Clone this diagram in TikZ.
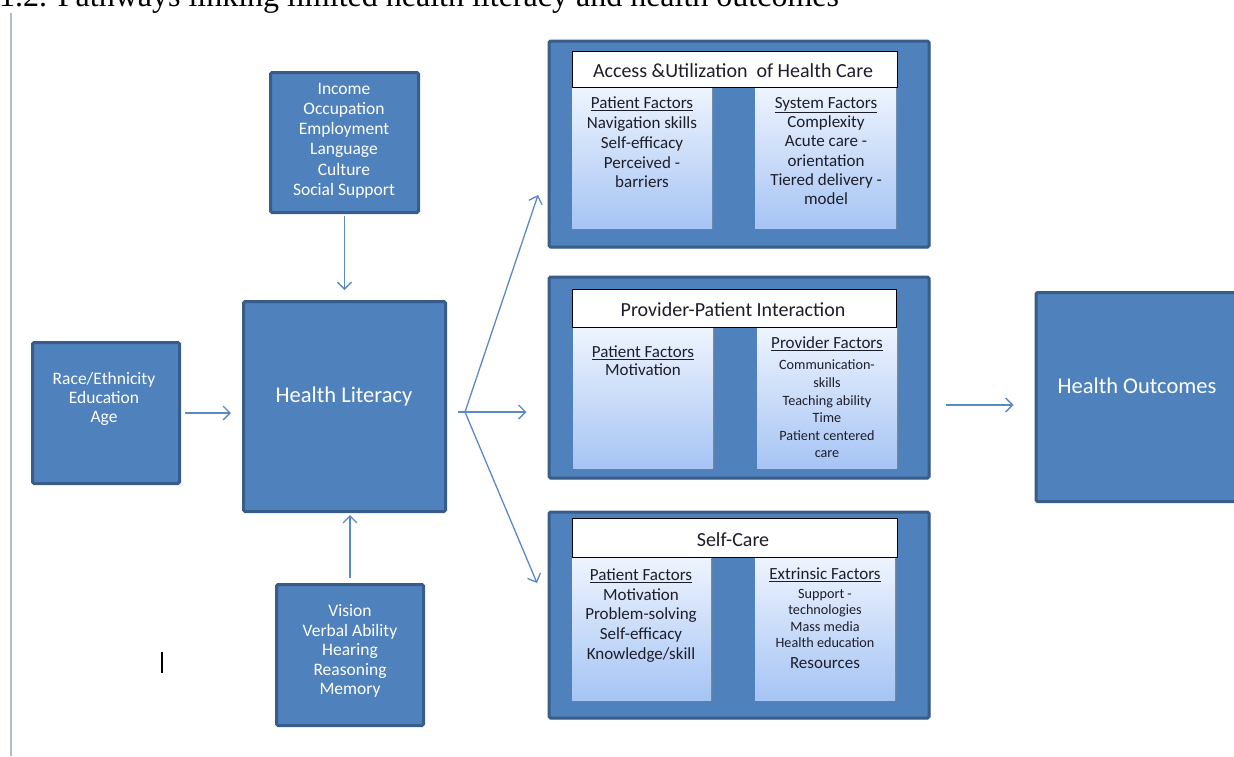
\documentclass[tikz,border=0pt]{standalone}
\usepackage{fontspec}
\setmainfont{Carlito}
\newfontfamily\captionserif{Liberation Serif}
\usetikzlibrary{arrows.meta,shadows,calc}

\definecolor{boxblue}{HTML}{4F81BD}
\definecolor{boxedge}{HTML}{385D8A}
\definecolor{arrowblue}{HTML}{5A8AC6}
\definecolor{paneltop}{HTML}{EEF4FE}
\definecolor{panelbot}{HTML}{A6C4F4}
\definecolor{inktext}{HTML}{1E1E2A}
\definecolor{guide}{HTML}{B4BCCB}

\begin{document}
\begin{tikzpicture}[x=1pt,y=-1pt,
  bluebox/.style={draw=boxedge, line width=3pt, fill=boxblue, rounded corners=1.5pt,
                  inner sep=0pt, outer sep=0pt},
  panelbox/.style={bluebox, drop shadow={opacity=0.25, shadow xshift=1.5pt, shadow yshift=-1.5pt}},
  factorbox/.style={draw=none, top color=paneltop, bottom color=panelbot, inner sep=0pt,
                    drop shadow={opacity=0.35, shadow xshift=2pt, shadow yshift=-2pt}},
  headbox/.style={draw=black, line width=1pt, fill=white, inner sep=0pt},
  boxtext/.style={text=white, align=center, inner sep=0pt, font=\fontsize{17.5}{20}\selectfont},
  bigtext/.style={text=white, align=center, inner sep=0pt, font=\fontsize{22.5}{26}\selectfont},
  headtext/.style={text=inktext, inner sep=0pt, font=\fontsize{20}{24}\selectfont},
  factortext/.style={text=inktext, align=center, inner sep=0pt, font=\fontsize{17}{19.5}\selectfont},
  smalltext/.style={text=inktext, align=center, inner sep=0pt, font=\fontsize{14.2}{16.3}\selectfont},
  arr/.style={draw=arrowblue, line width=1.3pt, -{Straight Barb[length=7pt,width=14pt]}},
]
\useasboundingbox (0,0) rectangle (1234,756);

% caption line, partly cut off at the top edge
\node[anchor=base west, inner sep=0pt, font=\captionserif\fontsize{32}{36}\selectfont]
  (caption) at (-1,6) {1.2. Pathways linking limited health literacy and health outcomes};

% margin rule on the left
\draw[guide, line width=1.5pt] (11,13) -- (11,756);

% text cursor mark
\draw[black, line width=2pt] (162,652) -- (162,673);

% ---- left-hand factor boxes ----
\node[bluebox, minimum width=147pt, minimum height=141pt] (race) at (106,413) {};
\node[boxtext, font=\fontsize{17.5}{19}\selectfont] (racetxt) at (104,399) {Race/Ethnicity\\Education\\Age};

\node[bluebox, minimum width=202pt, minimum height=210pt] (hl) at (344.5,406.5) {};
\node[bigtext] (hltxt) at (344,396) {Health Literacy};

\node[bluebox, minimum width=148pt, minimum height=140pt] (income) at (344.5,142.5) {};
\node[boxtext, font=\fontsize{17.5}{20.2}\selectfont] (incometxt) at (344,140.5)
  {Income\\Occupation\\Employment\\Language\\Culture\\Social Support};

\node[bluebox, minimum width=147pt, minimum height=141pt] (vision) at (350,655) {};
\node[boxtext, font=\fontsize{17.5}{19.5}\selectfont] (visiontxt) at (350,651)
  {Vision\\Verbal Ability\\Hearing\\Reasoning\\Memory};

\node[bluebox, minimum width=203pt, minimum height=209pt] (ho) at (1137.5,397) {};
\node[bigtext] (hotxt) at (1137,386) {Health Outcomes};

% ---- access and utilization panel ----
\node[panelbox, minimum width=380pt, minimum height=206pt] (accpanel) at (739,144) {};
\node[factorbox, minimum width=140pt, minimum height=141pt] (accleft) at (642,157.5) {};
\node[factorbox, minimum width=141pt, minimum height=141pt] (accright) at (825.5,157.5) {};
\node[headbox, minimum width=325pt, minimum height=36pt] (acchead) at (734.5,69) {};
\node[headtext] (accheadtxt) at (733,71) {Access \&Utilization\hspace{0.45em}of Health Care};
\node[factortext, font=\fontsize{17}{19.75}\selectfont] (acclefttxt) at (642,142.5)
  {\underline{Patient Factors}\\Navigation skills\\Self-efficacy\\Perceived -\\barriers};
\node[factortext, font=\fontsize{17}{19.2}\selectfont] (accrighttxt) at (826,151)
  {\underline{System Factors}\\Complexity\\Acute care -\\orientation\\Tiered delivery -\\model};

% ---- provider-patient interaction panel ----
\node[panelbox, minimum width=380pt, minimum height=201pt] (provpanel) at (739,377.5) {};
\node[factorbox, minimum width=140pt, minimum height=141pt] (provleft) at (643,397.5) {};
\node[factorbox, minimum width=140pt, minimum height=141pt] (provright) at (827,397.5) {};
\node[headbox, minimum width=324pt, minimum height=38pt] (provhead) at (734,308) {};
\node[headtext] (provheadtxt) at (733,310) {Provider-Patient Interaction};
\node[factortext, font=\fontsize{17}{18}\selectfont] (provlefttxt) at (643,361)
  {\underline{Patient Factors}\\Motivation};
\node[factortext] (provrighthead) at (827,344) {\underline{Provider Factors}};
\node[smalltext, font=\fontsize{14.2}{17.6}\selectfont] (provrighttxt) at (827,409)
  {Communication-\\skills\\Teaching ability\\Time\\Patient centered\\care};

% ---- self-care panel ----
\node[panelbox, minimum width=380pt, minimum height=206pt] (selfpanel) at (739,615) {};
\node[factorbox, minimum width=139pt, minimum height=142pt] (selfleft) at (641.5,629) {};
\node[factorbox, minimum width=140pt, minimum height=142pt] (selfright) at (825,629) {};
\node[headbox, minimum width=325pt, minimum height=39pt] (selfhead) at (734.5,537.5) {};
\node[headtext] (selfheadtxt) at (733,540) {Self-Care};
\node[factortext, font=\fontsize{17}{19.75}\selectfont] (selflefttxt) at (641,615.5)
  {\underline{Patient Factors}\\Motivation\\Problem-solving\\Self-efficacy\\Knowledge/skill};
\node[factortext] (selfrighthead) at (825,575) {\underline{Extrinsic Factors}};
\node[smalltext] (selfrighttxt) at (825,618.5)
  {Support -\\technologies\\Mass media\\Health education};
\node[factortext] (selfrightres) at (825,663) {Resources};

% ---- connectors ----
\draw[arr, shorten <=5.5pt, shorten >=12.5pt] (race.east) -- (race.east -| hl.west);
\draw[arr, shorten <=3pt, shorten >=11.5pt] (income.south) -- (income.south |- hl.north);
\draw[arr, shorten <=6.5pt, shorten >=3.5pt] (vision.north) -- (vision.north |- hl.south);

\coordinate (forkin) at ([xshift=12.5pt, yshift=-5.5pt]hl.east);
\coordinate (fork) at ([xshift=19.5pt, yshift=-5.5pt]hl.east);
\coordinate (acctip) at (538,195);
\coordinate (selftip) at (537,583);
\draw[arr] (fork) -- (acctip);
\draw[arr] (fork) -- (selftip);
\draw[arr, shorten >=22.5pt] (forkin) -- (forkin -| provpanel.west);

\draw[arr, shorten <=16.5pt, shorten >=22.5pt]
  ([yshift=-27.5pt]provpanel.east) -- ([yshift=-27.5pt]provpanel.east -| ho.west);
\end{tikzpicture}
\end{document}
